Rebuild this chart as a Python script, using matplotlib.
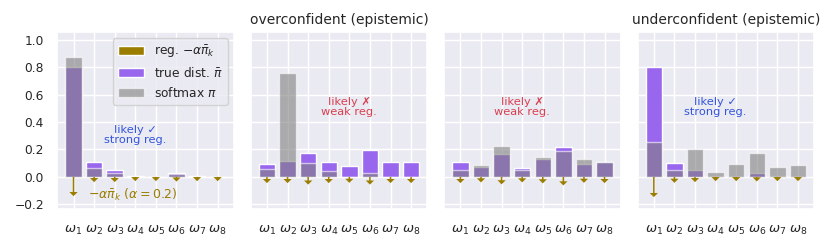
import matplotlib
matplotlib.use("Agg")
import matplotlib.pyplot as plt
import seaborn as sns
import numpy as np
from matplotlib.patches import Patch

sns.set_theme(style="darkgrid")
plt.rcParams['font.family'] = ['DejaVu Sans']

categories = [r"$\omega_{%d}$" % i for i in range(1, 9)]
alpha = 0.2

# true distribution (purple) and softmax (gray) per panel
true_p1 = [0.80, 0.107, 0.05, 0.005, 0.003, 0.027, 0.005, 0.003]
soft_p1 = [0.875, 0.063, 0.03, 0.0, 0.0, 0.018, 0.0, 0.0]

true_p2 = [0.092, 0.113, 0.177, 0.107, 0.083, 0.197, 0.107, 0.107]
soft_p2 = [0.061, 0.76, 0.10, 0.04, 0.0, 0.025, 0.0, 0.0]

true_p3 = [0.107, 0.073, 0.165, 0.065, 0.129, 0.218, 0.097, 0.109]
soft_p3 = [0.051, 0.085, 0.223, 0.05, 0.143, 0.187, 0.131, 0.109]

true_p4 = [0.80, 0.105, 0.049, 0.005, 0.003, 0.025, 0.005, 0.003]
soft_p4 = [0.252, 0.051, 0.206, 0.034, 0.097, 0.175, 0.07, 0.09]

# regularisation arrow shaft lengths
reg_p1 = [0.110, 0.008, 0.008, 0.001, 0.001, 0.004, 0.001, 0.001]
reg_p2 = [0.015, 0.015, 0.026, 0.015, 0.013, 0.026, 0.015, 0.015]
reg_p3 = [0.015, 0.010, 0.024, 0.010, 0.017, 0.032, 0.013, 0.015]
reg_p4 = [0.117, 0.013, 0.008, 0.001, 0.001, 0.003, 0.001, 0.001]

titles = ["", "overconfident (epistemic)", "", "underconfident (epistemic)"]
notes = ["likely \u2713\nstrong reg.", "likely \u2717\nweak reg.",
         "likely \u2717\nweak reg.", "likely \u2713\nstrong reg."]
note_pos = [(3.0, 0.305), (4.0, 0.51), (3.0, 0.51), (3.0, 0.51)]
note_colors = ["#3355dd", "#d84050", "#d84050", "#3355dd"]

PURPLE = "#9966ee"
GRAY = "#808080"
GOLD = "#9b7d00"

fig, axes = plt.subplots(1, 4, figsize=(8.3, 2.49), dpi=100, sharey=True)
fig.subplots_adjust(left=0.069, right=0.981, bottom=0.161, top=0.871, wspace=0.095)

data = [(true_p1, soft_p1, reg_p1), (true_p2, soft_p2, reg_p2),
        (true_p3, soft_p3, reg_p3), (true_p4, soft_p4, reg_p4)]
x = np.arange(len(categories))
for i, ax in enumerate(axes):
    tp, sp, rg = data[i]
    ax.bar(x, tp, width=0.8, color=PURPLE, edgecolor="white", linewidth=1, zorder=2)
    ax.bar(x, sp, width=0.8, color=GRAY, alpha=0.6, edgecolor="white", linewidth=1, zorder=3)
    for xi, r in zip(x, rg):
        ax.arrow(xi, 0, 0, -r, width=0.075, head_width=0.4, head_length=0.03,
                 length_includes_head=False, color=GOLD, linewidth=0, zorder=4)
    ax.set_ylim(-0.233, 1.055)
    ax.set_xlim(-0.79, 7.79)
    ax.set_xticks(x)
    ax.set_xticklabels(categories, fontsize=9.5)
    ax.tick_params(axis='y', labelsize=8.8)
    ax.tick_params(axis='x', pad=5)
    ax.set_yticks([-0.2, 0.0, 0.2, 0.4, 0.6, 0.8, 1.0])
    if titles[i]:
        ax.set_title(titles[i], fontsize=10)
    ax.text(note_pos[i][0], note_pos[i][1], notes[i], color=note_colors[i],
            ha="center", va="center", fontsize=8.2, linespacing=1.1)

axes[0].text(0.72, -0.13, r"$-\alpha\bar{\pi}_k$ ($\alpha=0.2$)", color=GOLD,
             ha="left", va="center", fontsize=9)

handles = [Patch(facecolor=GOLD, edgecolor="white", label=r"reg. $-\alpha\bar{\pi}_k$"),
           Patch(facecolor=PURPLE, edgecolor="white", label=r"true dist. $\bar{\pi}$"),
           Patch(facecolor=GRAY, alpha=0.6, edgecolor="white", label=r"softmax $\pi$")]
axes[0].legend(handles=handles, loc="upper right", fontsize=8.8, frameon=True,
               handlelength=2.2)

fig.savefig("out.png", dpi=100)
